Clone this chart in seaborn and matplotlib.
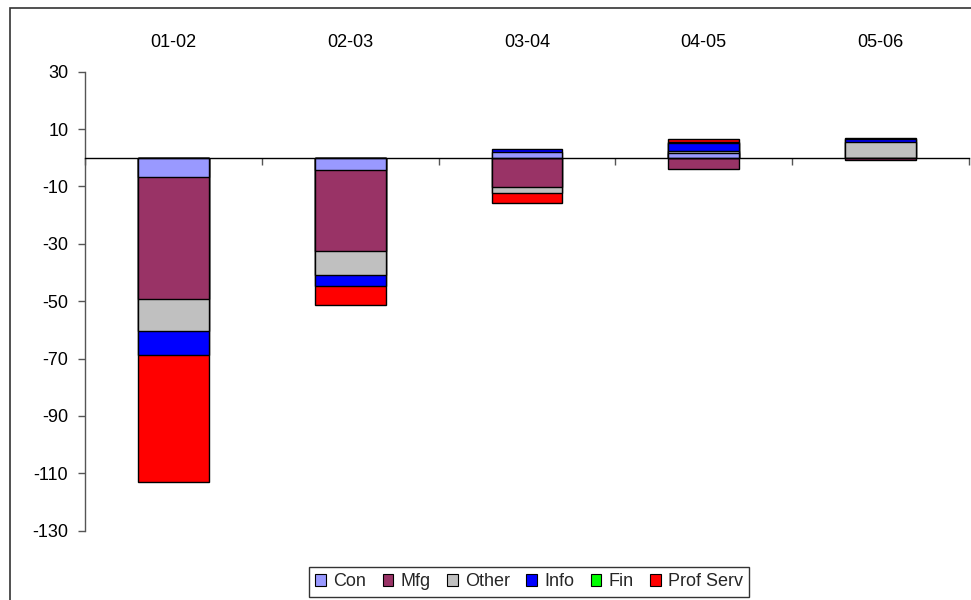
import matplotlib
matplotlib.use("Agg")
import matplotlib.pyplot as plt
from matplotlib.patches import Patch, Rectangle
import numpy as np
import pandas as pd
import seaborn as sns

# Fiscal-year periods and change by sector (thousands)
periods = ["01-02", "02-03", "03-04", "04-05", "05-06"]
sectors = ["Con", "Mfg", "Other", "Info", "Fin", "Prof Serv"]
con = [-6.7, -4.1, 1.9, 1.5, 0.0]
mfg = [-42.4, -28.3, -10.1, -4.0, -0.7]
other = [-11.2, -8.3, -2.1, 1.0, 5.4]
info = [-8.3, -4.0, 1.1, 2.8, 1.1]
fin = [0.0, 0.0, 0.0, 0.2, 0.3]
prof_serv = [-44.4, -6.6, -3.4, 1.0, 0.0]
y_ticks = [30, 10, -10, -30, -50, -70, -90, -110, -130]

colors = ["#9999FF", "#993366", "#C0C0C0", "#0000FF", "#00FF00", "#FF0000"]

values = np.array([con, mfg, other, info, fin, prof_serv])

sns.set_theme(style="white")
plt.rcParams["font.family"] = ["Liberation Sans", "DejaVu Sans"]
FS = 13

fig = plt.figure(figsize=(9.71, 6.0), dpi=100)
ax = fig.add_axes([85 / 971, 1 - 530.7 / 600, (969 - 85) / 971, (530.7 - 71.7) / 600])

# Positive values stack upward, negative values stack downward (series order)
pos = np.where(values > 0, values, 0).cumsum(axis=0)
neg = np.where(values < 0, values, 0).cumsum(axis=0)

# Draw cumulative totals from the outermost series inward so each
# segment is covered by the ones nearer the zero line.
for s in range(len(sectors) - 1, -1, -1):
    for cum, mask in ((pos[s], values[s] > 0), (neg[s], values[s] < 0)):
        sub = pd.DataFrame({
            "period": [p for p, m in zip(periods, mask) if m],
            "total": [c for c, m in zip(cum, mask) if m],
        })
        if sub.empty:
            continue
        sns.barplot(data=sub, x="period", y="total", order=periods,
                    color=colors[s], saturation=1, width=0.4,
                    edgecolor="black", linewidth=1.0, errorbar=None, ax=ax)

ax.set_xlim(-0.5, 4.5)
ax.set_ylim(-130, 30)
ax.set_xlabel("")
ax.set_ylabel("")

# Category labels across the top, boundary ticks on the zero line
ax.set_xticks(range(len(periods)))
ax.set_xticklabels(periods)
ax.set_xticks(np.arange(-0.5, 4.6, 1.0), minor=True)
ax.tick_params(axis="x", which="major", bottom=False, labelbottom=False,
               top=True, labeltop=True, length=0, pad=15, colors="black",
               labelsize=FS)
ax.tick_params(axis="x", which="minor", bottom=True, top=False, length=5,
               width=1, direction="out", color="#555555")

ax.set_yticks(y_ticks)
ax.set_yticklabels([str(t) for t in y_ticks])
ax.tick_params(axis="y", left=True, length=5, width=1, direction="out",
               color="#555555", pad=7, labelsize=FS, labelcolor="black")

for side in ("top", "right"):
    ax.spines[side].set_visible(False)
ax.spines["bottom"].set_position(("data", 0))
ax.spines["bottom"].set_color("black")
ax.spines["bottom"].set_linewidth(1.0)
ax.spines["left"].set_color("#555555")
ax.spines["left"].set_linewidth(1.0)
ax.grid(False)

# Chart-area border
fig.patches.append(Rectangle((10 / 971, -0.05), 1.1, 1.05 - 8 / 600,
                             transform=fig.transFigure, fill=False,
                             edgecolor="#333333", linewidth=1.2))

handles = [Patch(facecolor=c, edgecolor="black", linewidth=0.8) for c in colors]
leg = fig.legend(handles, sectors, loc="upper center",
                 bbox_to_anchor=(0.545, 1 - 567 / 600), ncol=6,
                 fontsize=FS, frameon=True, fancybox=False,
                 handlelength=0.6, handleheight=0.6, handletextpad=0.4,
                 columnspacing=0.9, borderpad=0.35, borderaxespad=0)
leg.get_frame().set_edgecolor("black")
leg.get_frame().set_linewidth(1.0)

fig.savefig("out.png", dpi=100)
